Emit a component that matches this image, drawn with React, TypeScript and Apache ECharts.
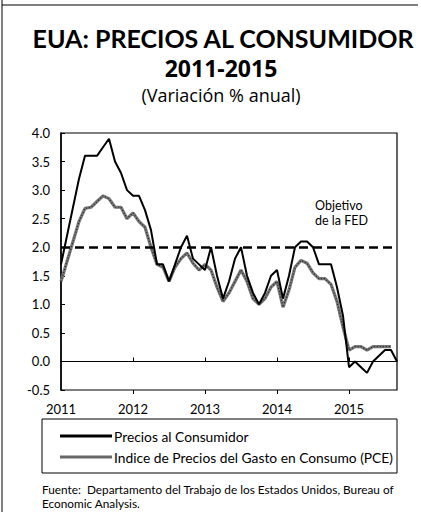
import React, { useEffect, useRef } from "react";
import * as echarts from "echarts";

const years = ["2011", "2012", "2013", "2014", "2015"];
const monthsPerYear = 12;
const lastYearMonths = 9;

const cpiValues = [
  1.7, 2.2, 2.7, 3.2, 3.6, 3.6, 3.6, 3.75, 3.9, 3.5, 3.3, 3.0,
  2.9, 2.9, 2.65, 2.3, 1.7, 1.7, 1.4, 1.7, 2.0, 2.2, 1.8, 1.7,
  1.6, 2.0, 1.5, 1.1, 1.4, 1.8, 2.0, 1.5, 1.2, 1.0, 1.2, 1.5,
  1.6, 1.1, 1.5, 2.0, 2.1, 2.1, 2.0, 1.7, 1.7, 1.7, 1.3, 0.8,
  -0.1, 0.0, -0.1, -0.2, 0.0, 0.1, 0.2, 0.2, 0.0,
];

const pceValues = [
  1.4, 1.75, 2.1, 2.45, 2.68, 2.7, 2.8, 2.9, 2.85, 2.7, 2.7, 2.5,
  2.6, 2.45, 2.35, 2.0, 1.7, 1.65, 1.4, 1.65, 1.8, 1.9, 1.72, 1.6,
  1.7, 1.6, 1.3, 1.05, 1.2, 1.4, 1.6, 1.4, 1.1, 1.0, 1.1, 1.3,
  1.4, 0.95, 1.25, 1.65, 1.77, 1.72, 1.55, 1.45, 1.45, 1.35, 1.05, 0.6,
  0.2, 0.26, 0.26, 0.2, 0.26, 0.26, 0.26, 0.26,
];

const fedTarget = 2.0;
const yTicks = { min: -0.5, max: 4.0, interval: 0.5 };

const seriesNames = [
  "Precios al Consumidor",
  "Indice de Precios del Gasto en Consumo (PCE)",
];

const categories: string[] = [];
years.forEach((y, i) => {
  const n = i === years.length - 1 ? lastYearMonths : monthsPerYear;
  for (let m = 1; m <= n; m++) categories.push(`${y}-${m}`);
});

const FONT = "Lato, 'Open Sans', sans-serif";
const WIDE = "'Open Sans', Lato, sans-serif";

export default function App() {
  const ref = useRef<HTMLDivElement>(null);

  useEffect(() => {
    if (!ref.current) return;
    const chart = echarts.init(ref.current, undefined, { renderer: "svg" });
    const isJan = (i: number) => i % 12 === 0;
    const baseX = {
      type: "category" as const,
      data: categories,
      boundaryGap: false,
      position: "bottom" as const,
    };
    chart.setOption({
      animation: false,
      backgroundColor: "#fff",
      textStyle: { fontFamily: FONT },
      grid: {
        left: 61,
        right: 24,
        top: 133,
        bottom: 122,
        show: true,
        borderColor: "#000",
        borderWidth: 1.2,
        backgroundColor: "transparent",
      },
      xAxis: [
        {
          ...baseX,
          axisLine: { show: false, onZero: false },
          axisTick: { show: false },
          splitLine: { show: false },
          axisLabel: {
            interval: (i: number) => isJan(i),
            formatter: (v: string) => v.split("-")[0],
            color: "#000",
            fontSize: 13,
            fontFamily: FONT,
            margin: 12,
          },
        },
        {
          ...baseX,
          axisLine: { show: true, onZero: true, lineStyle: { color: "#000", width: 1.2 } },
          axisTick: { show: true, inside: true, length: 4, interval: (i: number) => isJan(i) && i > 0, lineStyle: { color: "#000", width: 1 } },
          axisLabel: { show: false },
          splitLine: { show: false },
        },
        {
          ...baseX,
          axisLine: { show: false, onZero: true },
          axisTick: { show: true, inside: false, length: 4, interval: (i: number) => isJan(i) && i > 0, lineStyle: { color: "#000", width: 1 } },
          axisLabel: { show: false },
          splitLine: { show: false },
        },
      ],
      yAxis: {
        type: "value",
        min: yTicks.min,
        max: yTicks.max,
        interval: yTicks.interval,
        axisLine: { show: true, lineStyle: { color: "#000", width: 1.5 } },
        axisTick: { show: true, inside: true, length: 4, lineStyle: { color: "#000" } },
        splitLine: { show: false },
        axisLabel: {
          formatter: (v: number) => v.toFixed(1),
          color: "#000",
          fontSize: 13,
          fontFamily: FONT,
          margin: 11,
        },
      },
      legend: {
        data: [
          { name: seriesNames[0], icon: "rect", itemStyle: { color: "#000" } },
          { name: seriesNames[1], icon: "rect", itemStyle: { color: "#666" } },
        ],
        orient: "vertical",
        left: 55,
        top: 424,
        itemWidth: 52,
        itemHeight: 3,
        itemGap: 7,
        textStyle: { color: "#000", fontSize: 13.8, fontFamily: FONT, padding: [0, 0, 0, -3] },
      },
      series: [
        {
          name: seriesNames[1],
          type: "line",
          data: pceValues,
          symbol: "none",
          z: 2,
          lineStyle: { color: "#777", width: 3.2 },
          itemStyle: { color: "#777" },
        },
        {
          name: "pce-texture",
          type: "line",
          data: pceValues,
          symbol: "none",
          z: 3,
          silent: true,
          lineStyle: { color: "#222", width: 1.2, type: [1, 2] },
        },
        {
          name: seriesNames[0],
          type: "line",
          data: cpiValues,
          symbol: "none",
          z: 4,
          lineStyle: { color: "#000", width: 2 },
          itemStyle: { color: "#000" },
          markLine: {
            silent: true,
            symbol: "none",
            label: { show: false },
            lineStyle: { color: "#000", width: 2.5, type: [9, 5] },
            data: [{ yAxis: fedTarget }],
          },
        },
      ],
      graphic: [
        { type: "line", shape: { x1: 2, y1: 0, x2: 2, y2: 512 }, style: { stroke: "#000", lineWidth: 1 } },
        { type: "line", shape: { x1: 2, y1: 5, x2: 418, y2: 5 }, style: { stroke: "#000", lineWidth: 1.2 } },
        {
          type: "text",
          x: 223,
          y: 38,
          style: {
            text: "EUA: PRECIOS AL CONSUMIDOR",
            fill: "#000",
            font: `bold 25px ${FONT}`,
            textAlign: "center",
            textVerticalAlign: "middle",
          },
        },
        {
          type: "text",
          x: 221,
          y: 68,
          style: {
            text: "2011-2015",
            fill: "#000",
            font: `bold 23px ${WIDE}`,
            textAlign: "center",
            textVerticalAlign: "middle",
          },
        },
        {
          type: "text",
          x: 221,
          y: 95,
          style: {
            text: "(Variación % anual)",
            fill: "#000",
            font: `18px ${WIDE}`,
            textAlign: "center",
            textVerticalAlign: "middle",
          },
        },
        {
          type: "text",
          x: 315,
          y: 198,
          style: {
            text: "Objetivo\nde la FED",
            fill: "#000",
            font: `12.5px ${FONT}`,
            lineHeight: 15,
          },
        },
        {
          type: "rect",
          shape: { x: 42, y: 419, width: 355, height: 54 },
          style: { fill: "none", stroke: "#000", lineWidth: 1 },
        },
        {
          type: "text",
          x: 42,
          y: 489,
          style: {
            text: "Fuente:  Departamento del Trabajo de los Estados Unidos, Bureau of",
            fill: "#000",
            font: `11.8px ${FONT}`,
            textVerticalAlign: "middle",
          },
        },
        {
          type: "text",
          x: 42,
          y: 503,
          style: {
            text: "Economic Analysis.",
            fill: "#000",
            font: `11.8px ${FONT}`,
            textVerticalAlign: "middle",
          },
        },
      ],
    });
    return () => chart.dispose();
  }, []);

  return (
    <div
      ref={ref}
      style={{ position: "fixed", left: 0, top: 0, width: 421, height: 512, background: "#fff" }}
    />
  );
}
